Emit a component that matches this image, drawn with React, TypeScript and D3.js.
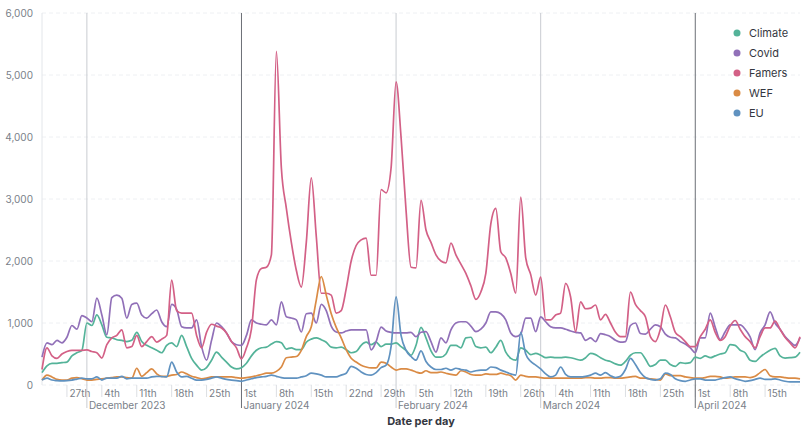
import React from "react";
import * as d3 from "d3";

const seriesNames = ["Climate", "Covid", "Famers", "WEF", "EU"];
const seriesColors = ["#54B399", "#9170B8", "#D36086", "#DA8B45", "#6092C0"];

const startDate = new Date(2023, 10, 22);
const endDate = new Date(2024, 3, 22);

const climate = [200,310,350,350,360,370,470,520,560,1000,960,1130,970,770,760,730,720,700,720,850,700,640,600,560,520,640,680,620,800,620,430,320,240,280,400,530,450,370,290,260,280,350,470,560,600,610,660,700,680,580,600,570,570,690,740,760,730,690,610,600,610,570,520,540,640,690,650,690,620,660,660,680,620,560,480,640,930,760,550,450,450,500,640,640,600,760,770,620,600,610,520,610,720,530,430,400,600,560,490,510,480,440,450,440,440,450,440,420,400,440,510,490,440,400,380,340,320,380,480,520,520,420,300,330,400,400,330,300,360,350,360,450,430,470,440,470,500,520,650,640,560,520,400,380,450,510,560,590,470,435,440,450,530];
const covid = [450,680,650,720,680,770,960,900,1120,1080,1020,1400,1130,810,1410,1450,1400,1080,1300,1320,1130,1080,1150,1210,1020,940,1300,1220,940,920,920,1050,620,400,720,1000,940,840,700,650,640,800,1050,1000,980,970,1050,970,1340,1100,1080,1050,855,1150,1160,1000,1300,1200,950,855,840,870,890,890,890,890,565,700,935,870,850,840,840,840,850,780,850,860,700,530,760,680,890,1000,1020,1020,950,860,900,1000,1180,1180,1150,1050,840,780,820,1080,1080,860,1100,1020,940,920,920,900,870,850,840,720,760,700,830,810,780,720,690,700,960,1000,830,820,900,970,940,820,770,760,700,660,600,520,760,760,1160,930,730,860,970,970,970,900,775,570,840,970,1180,1000,900,780,700,640,760];
const famers = [250,600,470,430,500,540,560,560,560,565,540,520,435,650,760,800,890,600,620,800,620,700,780,690,740,800,1690,1200,1160,1160,1160,800,600,850,980,950,920,840,700,600,420,600,900,1700,1880,1900,2100,5380,3500,2850,2300,1850,1580,2300,3340,2400,1480,1480,1450,1160,1200,1550,2000,2250,2340,2370,1770,1770,3150,3100,3500,4890,4000,2820,1900,1890,2980,2500,2300,2100,2000,1970,2290,2100,1950,1800,1600,1380,1500,1800,2600,2850,2150,2050,1800,1480,3030,2050,1780,1450,1740,1050,1050,1130,1160,1640,1420,860,1340,1230,1240,1290,1050,1140,1000,850,780,780,1500,1300,1200,1100,780,700,900,1290,1100,850,780,700,620,620,780,900,1050,850,720,780,950,1040,900,780,700,600,780,920,920,1030,900,770,680,600,780];
const wef = [80,160,130,90,80,80,110,120,100,80,80,90,100,110,120,130,130,120,110,270,140,200,260,180,140,140,160,170,210,180,140,120,100,110,130,130,130,130,130,120,110,120,130,150,170,190,190,220,290,440,450,460,560,780,940,1370,1750,1450,1150,930,760,570,430,370,320,290,275,275,370,350,290,240,260,260,240,210,190,230,200,200,210,190,170,160,230,210,170,160,160,180,170,170,190,170,150,80,160,140,130,130,120,110,110,110,110,110,110,110,110,120,120,110,110,120,120,110,110,120,130,140,110,110,100,90,80,180,150,150,150,130,120,110,110,120,140,140,130,110,120,130,130,130,120,140,200,250,150,130,130,120,110,110,100];
const eu = [80,110,80,70,65,70,80,95,110,100,100,130,80,110,110,110,140,100,110,110,110,110,130,140,135,130,370,210,130,140,110,80,80,90,110,130,110,90,80,70,60,80,100,120,130,140,160,140,120,110,110,110,130,150,190,180,160,130,130,130,160,190,300,270,210,170,160,200,280,320,620,1420,800,560,460,400,550,380,290,250,250,270,240,270,250,240,210,230,240,240,290,280,240,210,180,160,850,500,380,320,260,180,130,160,290,170,130,130,130,140,160,190,160,200,150,120,140,250,430,330,200,120,90,80,100,190,170,100,70,60,80,100,100,80,80,80,100,120,130,100,80,60,70,90,110,90,90,100,80,60,50,50,50];

const yTicks = [0, 1000, 2000, 3000, 4000, 5000, 6000];
const seriesValues = [climate, covid, famers, wef, eu];

const W = 808, H = 430;
const M = { left: 42, right: 800, top: 13, bottom: 385 };

function ordinal(n: number) {
  const s = n % 100;
  if (s >= 11 && s <= 13) return n + "th";
  if (n % 10 === 1) return n + "st";
  if (n % 10 === 2) return n + "nd";
  if (n % 10 === 3) return n + "rd";
  return n + "th";
}

const monthLineColor = (d: Date) => (d.getMonth() === 0 || d.getMonth() === 3 ? "#6b6f76" : "#c9ccd1");

export default function App() {
  const dates = d3.timeDay.range(startDate, d3.timeDay.offset(endDate, 1));
  const x = d3.scaleTime().domain([startDate, endDate]).range([M.left, M.right]);
  const y = d3.scaleLinear().domain([0, 6000]).range([M.bottom, M.top]);
  const line = d3
    .line<number>()
    .x((_, i) => x(dates[i]))
    .y((v) => y(v))
    .curve(d3.curveMonotoneX);
  const weeks = d3.timeMonday.range(startDate, endDate);
  const months = d3.timeMonth.range(d3.timeDay.offset(startDate, 1), endDate);
  const fmtMonth = d3.timeFormat("%B %Y");
  const font = "Inter, 'Noto Sans', sans-serif";

  return (
    <svg
      width={W}
      height={H}
      style={{ position: "absolute", left: 0, top: 0, background: "#fff" }}
      fontFamily={font}
    >
      {yTicks.map((t) => (
        <g key={t}>
          <line x1={M.left} x2={M.right} y1={y(t)} y2={y(t)} stroke="#eef0f3" strokeDasharray="4 3" />
          <text x={33} y={y(t)} dy="0.35em" textAnchor="end" fontSize={10} fill="#7a7f89">
            {d3.format(",")(t)}
          </text>
        </g>
      ))}
      <line x1={M.left} x2={M.left} y1={M.top} y2={M.bottom} stroke="#e3e6ea" />
      {weeks.map((d, i) => (
        <g key={"w" + i}>
          <line x1={x(d)} x2={x(d)} y1={M.bottom} y2={M.bottom + 12} stroke="#dcdfe3" />
          <text x={x(d) + 2.5} y={M.bottom + 12} fontSize={10} fill="#7a7f89">
            {ordinal(d.getDate())}
          </text>
        </g>
      ))}
      {months.map((d, i) => (
        <g key={"m" + i}>
          <line x1={x(d)} x2={x(d)} y1={M.top} y2={M.bottom + 23} stroke={monthLineColor(d)} />
          <text x={x(d) + 2} y={M.bottom + 24} fontSize={10} fill="#7a7f89">
            {fmtMonth(d)}
          </text>
        </g>
      ))}
      {seriesValues.map((vals, si) => (
        <path
          key={seriesNames[si]}
          d={line(vals) || ""}
          fill="none"
          stroke={seriesColors[si]}
          strokeWidth={1.7}
          strokeLinejoin="round"
        />
      ))}
      <text x={421} y={425} textAnchor="middle" fontSize={11} fontWeight={700} fill="#343741">
        Date per day
      </text>
      {seriesNames.map((n, i) => (
        <g key={n} transform={`translate(737, ${33 + i * 20})`}>
          <circle r={3.5} fill={seriesColors[i]} />
          <text x={12} dy="0.35em" fontSize={11} fill="#343741">
            {n}
          </text>
        </g>
      ))}
    </svg>
  );
}
